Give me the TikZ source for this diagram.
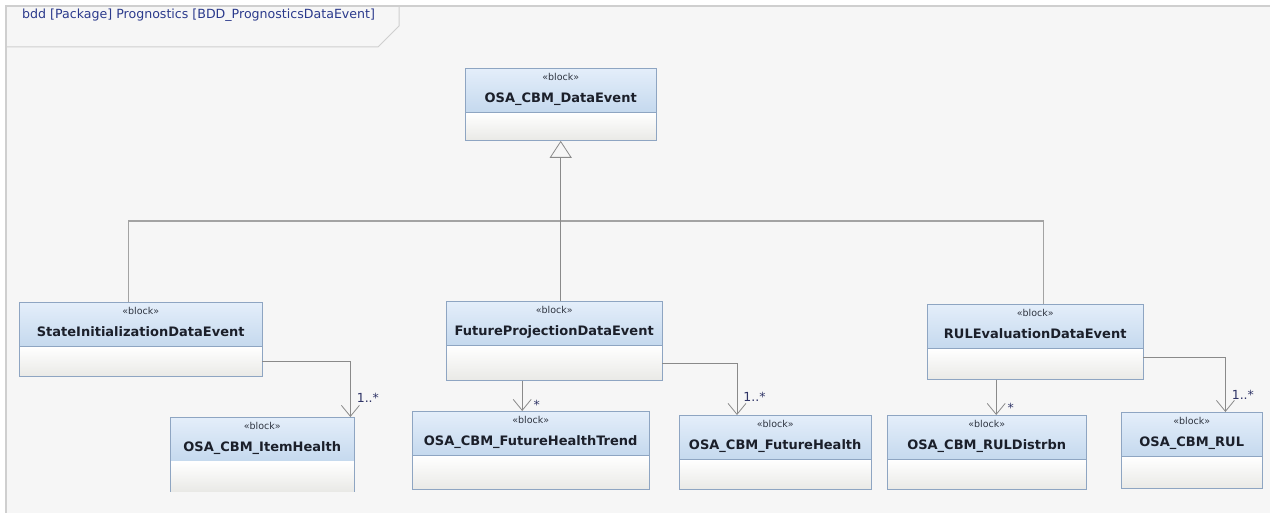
\documentclass[tikz,border=0pt]{standalone}
\usepackage{fontspec}
\setmainfont{DejaVu Sans}
\usetikzlibrary{arrows.meta, positioning}
\definecolor{cframe}{HTML}{F6F6F6}
\definecolor{cframeline}{HTML}{CFCFCF}
\definecolor{cedge}{HTML}{8EA5C2}
\definecolor{chtop}{HTML}{E4EEFA}
\definecolor{chbot}{HTML}{C5D9EE}
\definecolor{cbody}{HTML}{E9E9E6}
\definecolor{cname}{HTML}{1B1F2A}
\definecolor{cstereo}{HTML}{2E3440}
\definecolor{cline}{HTML}{8A8A8A}
\definecolor{ctree}{HTML}{A3A3A3}
\definecolor{cmult}{HTML}{2F3466}
\definecolor{ctitle}{HTML}{2B3A8C}

\newcommand{\blocktxt}[1]{{\fontsize{9.5}{10}\selectfont\color{cstereo}«block»}\\[10pt]%
  {\bfseries\fontsize{13}{15}\selectfont #1\rule[-5pt]{0pt}{1pt}}}

\begin{document}
\begin{tikzpicture}[
  x=1pt, y=-1pt,
  node distance=0pt,
  blk/.style={draw=cedge, anchor=north west, inner sep=0pt, minimum height=44pt,
              align=center, top color=chtop, bottom color=chbot, text=cname},
  cmp/.style={draw=cedge, inner sep=0pt, top color=white, bottom color=cbody},
  gen/.style={draw=cline, line width=0.8pt, -{Triangle[open, length=17pt, width=22pt]}},
  tree/.style={draw=ctree, line width=1.2pt},
  assoc/.style={draw=cline, line width=0.8pt,
                -{Straight Barb[length=11pt, width=18pt, line width=0.8pt]}},
  mult/.style={font=\fontsize{12.5}{14}\selectfont, text=cmult, inner sep=1pt},
  ]
\useasboundingbox (0,0) rectangle (1270,513);
% diagram frame
\fill[cframe] (6,6) rectangle (1270,513);
\draw[cframeline, line width=1.5pt] (1270,6) -- (6,6) -- (6,513);
\draw[cframeline, line width=1pt] (6,47) -- (378,47) -- (399,26) -- (399,6);
\node[anchor=base west, inner sep=0pt, text=ctitle, font=\fontsize{12.6}{14}\selectfont]
  (title) at (22,19) {bdd [Package] Prognostics [BDD\_PrognosticsDataEvent]};

% blocks
\node[blk, minimum width=191pt] (devt) at (465,68) {\blocktxt{OSA\_CBM\_DataEvent}};
\node[cmp, below=of devt, minimum width=191pt, minimum height=28pt] (devtb) {};

\node[blk, minimum width=243pt] (stinit) at (19,302) {\blocktxt{StateInitializationDataEvent}};
\node[cmp, below=of stinit, minimum width=243pt, minimum height=30pt] (stinitb) {};

\node[blk, minimum width=216pt] (fproj) at (446,301) {\blocktxt{FutureProjectionDataEvent}};
\node[cmp, below=of fproj, minimum width=216pt, minimum height=35pt] (fprojb) {};

\node[blk, minimum width=216pt] (rulev) at (927,304) {\blocktxt{RULEvaluationDataEvent}};
\node[cmp, below=of rulev, minimum width=216pt, minimum height=31pt] (rulevb) {};

\node[blk, minimum width=184pt] (itemh) at (170,417) {\blocktxt{OSA\_CBM\_ItemHealth}};
\node[cmp, draw=none, below=of itemh, minimum width=184pt, minimum height=30pt] (itemhb) {};
\draw[cedge] (itemhb.north west) -- (itemhb.south west)
             (itemhb.north east) -- (itemhb.south east);

\node[blk, minimum width=237pt] (fhtrend) at (412,411) {\blocktxt{OSA\_CBM\_FutureHealthTrend}};
\node[cmp, below=of fhtrend, minimum width=237pt, minimum height=34pt] (fhtrendb) {};

\node[blk, minimum width=192pt] (fhealth) at (679,415) {\blocktxt{OSA\_CBM\_FutureHealth}};
\node[cmp, below=of fhealth, minimum width=192pt, minimum height=30pt] (fhealthb) {};

\node[blk, minimum width=199pt] (ruldist) at (887,415) {\blocktxt{OSA\_CBM\_RULDistrbn}};
\node[cmp, below=of ruldist, minimum width=199pt, minimum height=30pt] (ruldistb) {};

\node[blk, minimum width=141pt] (rul) at (1121,412) {\blocktxt{OSA\_CBM\_RUL}};
\node[cmp, below=of rul, minimum width=141pt, minimum height=32pt] (rulb) {};

% generalization
\coordinate (gj) at (devtb.south |- 0,221);
\draw[tree] ([xshift=-12pt]stinit.north) |- (gj) -| ([xshift=8pt]rulev.north);
\draw[gen] (devtb.south |- fproj.north) -- (devtb.south);

% associations
\draw[assoc] (stinitb.east) -| ([xshift=-4pt]itemh.north east)
  node[mult, anchor=west, xshift=5pt, yshift=19pt] {1..*};
\draw[assoc] ([xshift=-32pt]fprojb.south) -- ([xshift=-32pt]fprojb.south |- fhtrend.north)
  node[mult, anchor=west, xshift=10pt, yshift=6pt] {*};
\draw[assoc] (fprojb.east) -| ([xshift=58pt]fhealth.north west)
  node[mult, anchor=west, xshift=5pt, yshift=18pt] {1..*};
\draw[assoc] ([xshift=-39pt]rulevb.south) -- ([xshift=-39pt]rulevb.south |- ruldist.north)
  node[mult, anchor=west, xshift=10pt, yshift=7pt] {*};
\draw[assoc] ([yshift=7pt]rulevb.east) -| ([xshift=-37pt]rul.north east)
  node[mult, anchor=west, xshift=5pt, yshift=17pt] {1..*};
\end{tikzpicture}
\end{document}
